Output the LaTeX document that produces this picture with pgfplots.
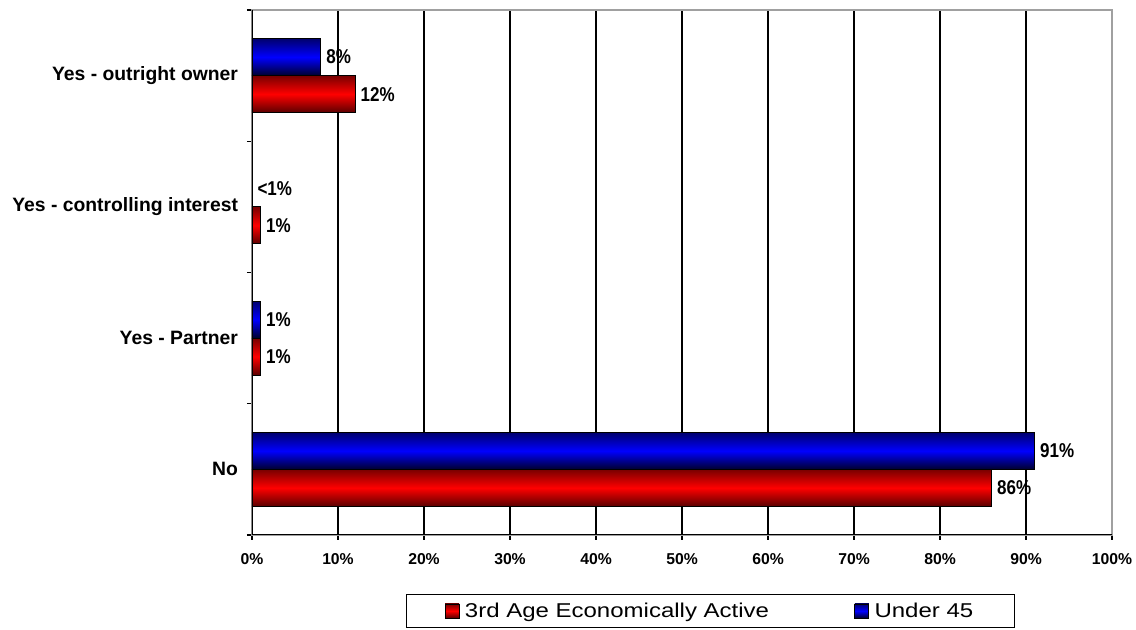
\documentclass[border=0pt]{standalone}
\usepackage{pgfplots}
\pgfplotsset{compat=1.18}
\usepackage{fontspec}
\setmainfont{Liberation Sans}
\newfontfamily\valfont[FakeStretch=0.85]{Liberation Sans}
\newfontfamily\legfont[FakeStretch=1.2]{Liberation Sans}
\definecolor{rdark}{RGB}{120,0,0}
\definecolor{rdarkb}{RGB}{90,0,0}
\definecolor{rmid}{RGB}{255,0,0}
\definecolor{bdark}{RGB}{0,0,110}
\definecolor{bdarkb}{RGB}{0,0,45}
\definecolor{bmid}{RGB}{0,0,255}
\definecolor{gborder}{RGB}{160,160,160}
\pgfplotsset{
  redbar/.style={draw=black, line width=0.6pt, top color=rdark, bottom color=rdarkb, middle color=rmid, bar shift=-13.875pt},
  bluebar/.style={draw=black, line width=0.6pt, top color=bdark, bottom color=bdarkb, middle color=bmid, bar shift=13.875pt},
}
\begin{document}
\begin{tikzpicture}
\useasboundingbox (-189pt,-71.25pt) rectangle (663pt,401.25pt);
\begin{axis}[
  at={(0,0)}, anchor=south west,
  scale only axis, width=645pt, height=393.75pt,
  xbar=0pt, bar width=27.75pt,
  xmin=0, xmax=100, ymin=-0.5, ymax=3.5,
  axis line style={gborder, line width=0.9pt},
  xtick={0,10,...,100},
  xticklabels={0\%,10\%,20\%,30\%,40\%,50\%,60\%,70\%,80\%,90\%,100\%},
  xticklabel style={font=\bfseries\fontsize{11.8}{13}\selectfont, yshift=-6.5pt},
  xmajorgrids, grid style={black, line width=0.9pt},
  ytick={-0.5,0.5,1.5,2.5,3.5}, yticklabels={},
  extra y ticks={0,1,2,3},
  extra y tick labels={No, Yes - Partner, Yes - controlling interest, Yes - outright owner},
  extra y tick style={major tick length=0pt, yticklabel style={font=\bfseries\fontsize{14.5}{17}\selectfont, xshift=-7pt}},
  tick align=outside,
  xtick pos=bottom, ytick pos=left,
  major tick length=3.75pt,
  tick style={black, line width=0.9pt},
  nodes near coords, point meta=explicit symbolic,
  every node near coord/.append style={font=\valfont\bfseries\fontsize{15}{17}\selectfont, black, anchor=west, xshift=0.5pt},
  legend columns=2,
  legend style={at={(axis description cs:0.533,0)}, anchor=north, yshift=-44.4pt,
    draw=black, line width=0.75pt, font=\legfont\fontsize{15}{18}\selectfont,
    inner xsep=29pt, inner ysep=4pt,
    /tikz/every even column/.append style={column sep=62pt}},
]
\addplot[redbar, legend image code/.code={\draw[draw=black, line width=0.6pt, top color=rdark, bottom color=rdarkb, middle color=rmid] (0pt,-5.25pt) rectangle (10.5pt,5.25pt); \path (12.5pt,0pt);}]
  coordinates {(86,0) [86\%]};
\addplot[bluebar, legend image code/.code={\draw[draw=black, line width=0.6pt, top color=bdark, bottom color=bdarkb, middle color=bmid] (0pt,-5.25pt) rectangle (10.5pt,5.25pt); \path (12.5pt,0pt);}]
  coordinates {(91,0) [91\%]};
\addplot[redbar, forget plot] coordinates {(1,1) [1\%]};
\addplot[bluebar, forget plot] coordinates {(1,1) [1\%]};
\addplot[redbar, forget plot] coordinates {(1,2) [1\%]};
\addplot[bluebar, forget plot, draw=none] coordinates {(0,2) [<1\%]};
\addplot[redbar, forget plot] coordinates {(12,3) [12\%]};
\addplot[bluebar, forget plot] coordinates {(8,3) [8\%]};
\legend{3rd Age Economically Active, Under 45}
\draw[black, line width=0.9pt] (rel axis cs:0,0) -- (rel axis cs:0,1);
\draw[black, line width=0.9pt] (rel axis cs:0,0) -- (rel axis cs:1,0);
\end{axis}
\end{tikzpicture}
\end{document}
